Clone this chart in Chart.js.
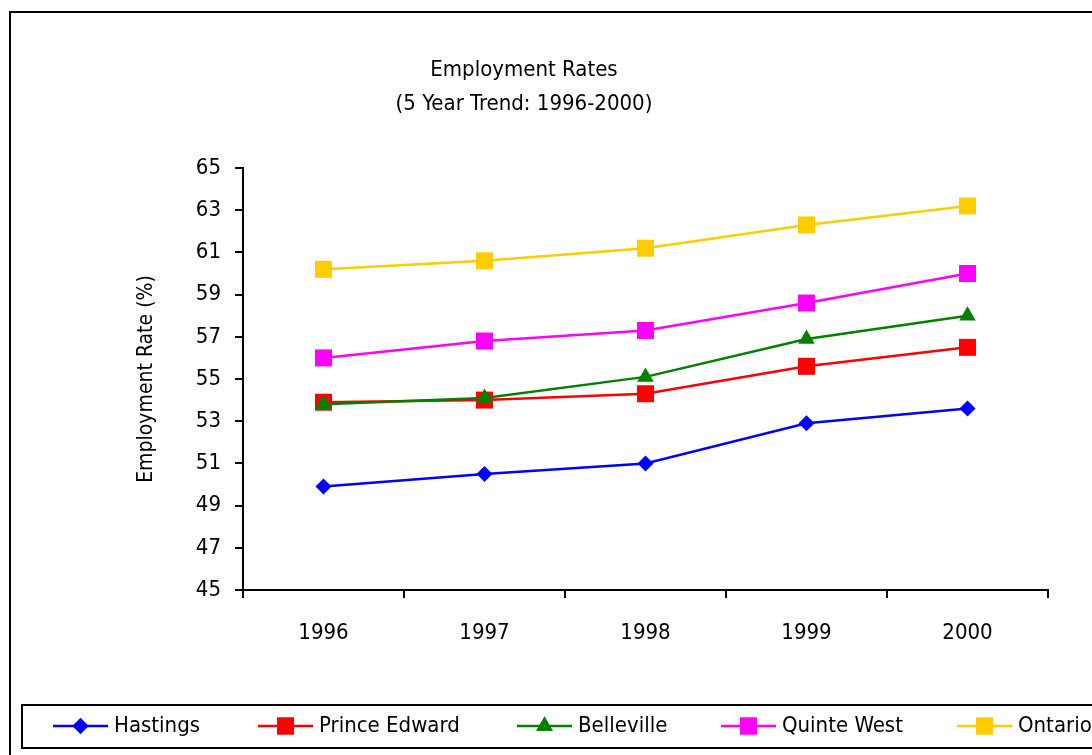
<!DOCTYPE html>
<html>
<head>
<meta charset="utf-8">
<script src="https://cdn.jsdelivr.net/npm/chart.js@4"></script>
<style>
  html, body { margin: 0; padding: 0; background: #fff; }
  #wrap { width: 1092px; height: 755px; position: relative; }
</style>
</head>
<body>
<div id="wrap"><canvas id="empChart" width="1092" height="755"></canvas></div>
<script>
// data
const years = ['1996', '1997', '1998', '1999', '2000'];
const hastings = [49.9, 50.5, 51.0, 52.9, 53.6];
const princeEdward = [53.9, 54.0, 54.3, 55.6, 56.5];
const belleville = [53.8, 54.1, 55.1, 56.9, 58.0];
const quinteWest = [56.0, 56.8, 57.3, 58.6, 60.0];
const ontario = [60.2, 60.6, 61.2, 62.3, 63.2];
const yTicks = [45, 47, 49, 51, 53, 55, 57, 59, 61, 63, 65];

const FONT = '"DejaVu Sans Condensed", "Liberation Sans Narrow", "Noto Sans", sans-serif';

function series(label, data, color, style, radius, i) {
    return {
        label: label,
        data: data,
        borderColor: color,
        backgroundColor: color,
        borderWidth: 2.5,
        pointStyle: style,
        pointRadius: radius,
        pointHoverRadius: radius,
        pointBorderWidth: 0,
        tension: 0,
        order: 5 - i
    };
}

const datasets = [
    series('Hastings', hastings, '#0000FF', 'rectRot', 8, 0),
    series('Prince Edward', princeEdward, '#FF0000', 'rect', 12, 1),
    series('Belleville', belleville, '#008000', 'triangle', 9.5, 2),
    series('Quinte West', quinteWest, '#FF00FF', 'rect', 12, 3),
    series('Ontario', ontario, '#FFCC00', 'rect', 12, 4)
];

// frame + legend box drawn around the chart
const framePlugin = {
    id: 'frame',
    afterDraw(chart) {
        const ctx = chart.ctx;
        ctx.save();
        ctx.strokeStyle = '#000';
        ctx.lineWidth = 2;
        ctx.strokeRect(10, 12, 1200, 1000);
        ctx.fillStyle = '#fff';
        ctx.fillRect(22, 705, 1100, 43);
        ctx.strokeRect(22, 705, 1100, 43);

        const starts = [53, 258, 517, 721, 957];
        const y = 726;
        chart.data.datasets.forEach((ds, i) => {
            const x0 = starts[i];
            ctx.strokeStyle = ds.borderColor;
            ctx.lineWidth = 2.5;
            ctx.beginPath();
            ctx.moveTo(x0, y);
            ctx.lineTo(x0 + 55, y);
            ctx.stroke();
            ctx.fillStyle = ds.backgroundColor;
            Chart.helpers.drawPoint(ctx, { pointStyle: ds.pointStyle, radius: ds.pointRadius, borderWidth: 0 }, x0 + 27.5, y);
            ctx.fill();
            ctx.fillStyle = '#000';
            ctx.font = '22px ' + FONT;
            ctx.textBaseline = 'middle';
            ctx.textAlign = 'left';
            ctx.fillText(ds.label, x0 + 61, y);
        });
        ctx.restore();
    }
};

new Chart(document.getElementById('empChart'), {
    type: 'line',
    data: { labels: years, datasets: datasets },
    plugins: [framePlugin],
    options: {
        responsive: false,
        animation: false,
        layout: { padding: { left: 0, right: 44, top: 53, bottom: 105 } },
        plugins: {
            legend: { display: false },
            tooltip: { enabled: false },
            title: {
                display: true,
                text: ['Employment Rates', '(5 Year Trend: 1996-2000)'],
                color: '#000',
                font: { family: FONT, size: 22, weight: 'normal', lineHeight: '34px' },
                padding: { top: 0, bottom: 47 }
            }
        },
        scales: {
            x: {
                offset: true,
                grid: { offset: true, drawOnChartArea: false, drawTicks: true, tickLength: 8, color: '#000', lineWidth: 2 },
                border: { display: true, color: '#000', width: 2 },
                ticks: { color: '#000', padding: 22, font: { family: FONT, size: 22 } },
                afterFit(s) { s.height = 60; }
            },
            y: {
                min: 45,
                max: 65,
                afterBuildTicks(s) { s.ticks = yTicks.map(v => ({ value: v })); },
                grid: { drawOnChartArea: false, drawTicks: true, tickLength: 8, color: '#000', lineWidth: 2 },
                border: { display: true, color: '#000', width: 2 },
                ticks: { color: '#000', padding: 14, font: { family: FONT, size: 22 } },
                title: {
                    display: true,
                    text: 'Employment Rate (%)',
                    color: '#000',
                    font: { family: FONT, size: 21 },
                    padding: { top: 134, bottom: 0 }
                },
                afterFit(s) { s.width = 243; }
            }
        }
    }
});
</script>
</body>
</html>
